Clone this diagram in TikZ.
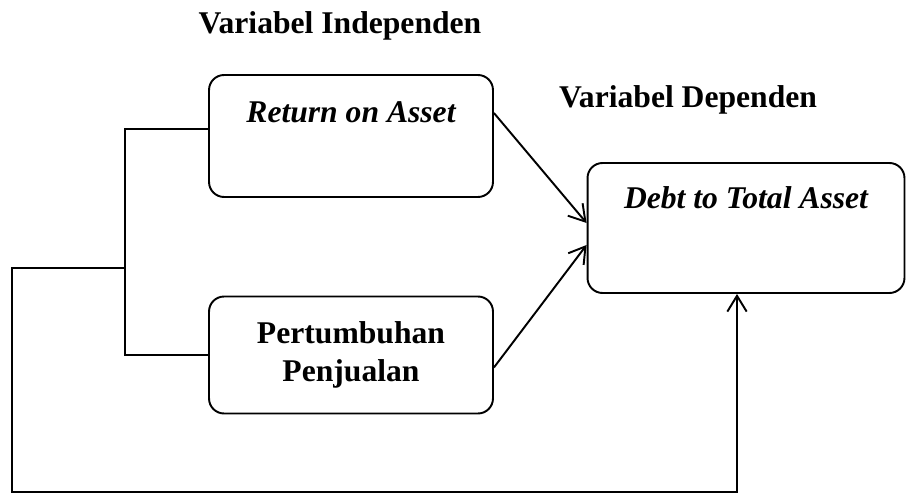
\documentclass[tikz,border=0pt]{standalone}
\usepackage{fontspec}
\setmainfont{Liberation Serif}
\usetikzlibrary{arrows.meta, positioning}

\begin{document}
\begin{tikzpicture}[
  x=0.02cm, y=-0.02cm,
  font=\fontsize{18}{18.2}\selectfont,
  box/.style={draw, line width=1.1pt, rounded corners=0.3cm, inner sep=0pt, align=center},
  title/.style={anchor=base, font=\fontsize{18}{18.2}\selectfont\bfseries},
  line/.style={line width=1.1pt},
  arr/.style={line width=1.1pt, -{Straight Barb[length=9pt, width=11pt, line width=1.1pt]}}
]
\useasboundingbox (0,0) rectangle (906,494);

% Titles
\node[title] (indep) at (340,33) {Variabel Independen};
\node[title] (dep)   at (688,107) {Variabel Dependen};

% Independent variables
\node[box, anchor=base, minimum width=5.68cm, text height=0.94cm, text depth=1.5cm,
      font=\fontsize{18}{18.2}\selectfont\bfseries\itshape] (roa) at (351,122) {Return on Asset};
\node[box, minimum width=5.68cm, minimum height=2.34cm,
      font=\fontsize{18}{18.2}\selectfont\bfseries] (pj) at (351,355) {Pertumbuhan\\[3pt]Penjualan};

% Dependent variable
\node[box, anchor=base, minimum width=6.34cm, text height=0.9cm, text depth=1.7cm,
      font=\fontsize{18}{18.2}\selectfont\bfseries\itshape] (dta) at (746,208) {Debt to Total Asset};

% Joints
\coordinate (jt) at (125,129);
\coordinate (jm) at (125,268);
\coordinate (fb) at (12,492);
\coordinate (fx) at (737,492);

% Arrows
\draw[line] (jt -| roa.west) -- (jt) |- (pj.west);
\draw[arr] ([yshift=0.46cm]roa.east) -- ([yshift=0.1cm]dta.west);
\draw[arr] ([yshift=-0.25cm]pj.east) -- ([yshift=-0.34cm]dta.west);
\draw[arr] (jm) -| (fb) -| (fx |- dta.south);

\end{tikzpicture}
\end{document}
